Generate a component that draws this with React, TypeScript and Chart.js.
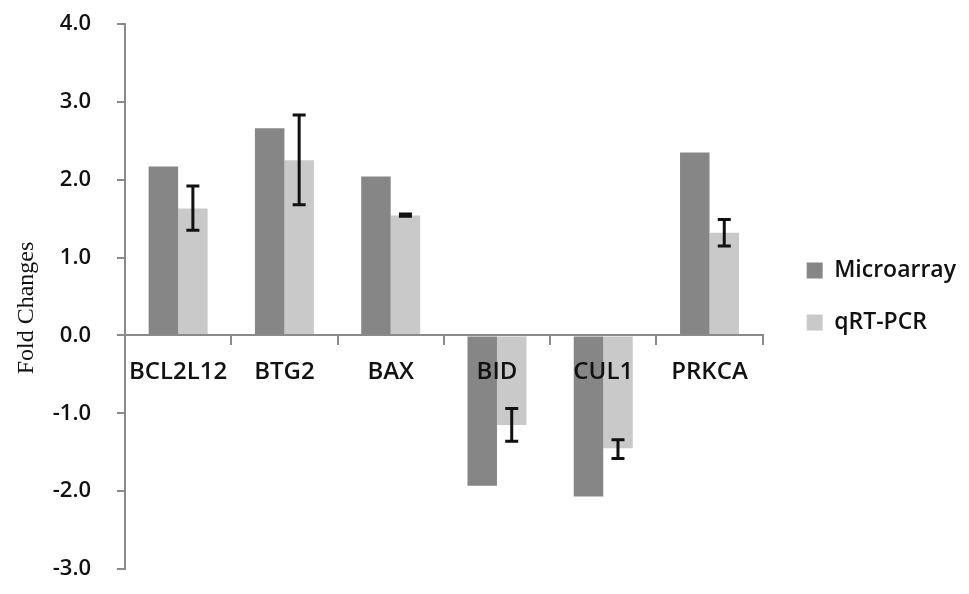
import React, { useEffect, useRef } from "react";
import { Chart, registerables } from "chart.js";

Chart.register(...registerables);

const categories = ["BCL2L12", "BTG2", "BAX", "BID", "CUL1", "PRKCA"];
const microarray = [2.17, 2.66, 2.04, -1.93, -2.07, 2.35];
const qrtpcr = [1.63, 2.25, 1.54, -1.15, -1.45, 1.32];
const qrtErrLow = [1.35, 1.68, 1.53, -1.36, -1.58, 1.15];
const qrtErrHigh = [1.92, 2.83, 1.56, -0.94, -1.34, 1.49];
const yTicks = [-3, -2, -1, 0, 1, 2, 3, 4];

const FONT = "'Open Sans', 'Noto Sans', sans-serif";

const errorBarPlugin = {
  id: "errorBars",
  afterDatasetsDraw(chart: any) {
    const meta = chart.getDatasetMeta(1);
    const y = chart.scales.y;
    const ctx = chart.ctx;
    ctx.save();
    ctx.strokeStyle = "#111";
    ctx.lineWidth = 3;
    meta.data.forEach((bar: any, i: number) => {
      const x = bar.x;
      const yHi = y.getPixelForValue(qrtErrHigh[i]);
      const yLo = y.getPixelForValue(qrtErrLow[i]);
      const cap = 6.5;
      ctx.beginPath();
      ctx.moveTo(x, yHi);
      ctx.lineTo(x, yLo);
      ctx.moveTo(x - cap, yHi);
      ctx.lineTo(x + cap, yHi);
      ctx.moveTo(x - cap, yLo);
      ctx.lineTo(x + cap, yLo);
      ctx.stroke();
    });
    ctx.restore();
  },
};

const yTitlePlugin = {
  id: "yTitle",
  afterDraw(chart: any) {
    const ctx = chart.ctx;
    ctx.save();
    ctx.translate(33, 308);
    ctx.rotate(-Math.PI / 2);
    ctx.font = "24px 'Liberation Serif', 'Times New Roman', serif";
    ctx.fillStyle = "#111";
    ctx.textAlign = "center";
    ctx.textBaseline = "alphabetic";
    ctx.fillText("Fold Changes", 0, 0);
    ctx.restore();
  },
};

export default function App() {
  const ref = useRef<HTMLCanvasElement | null>(null);
  useEffect(() => {
    if (!ref.current) return;
    const chart = new Chart(ref.current, {
      type: "bar",
      data: {
        labels: categories,
        datasets: [
          {
            label: "Microarray",
            data: microarray,
            backgroundColor: "#868686",
            borderWidth: 0,
            categoryPercentage: 0.555,
            barPercentage: 1,
          },
          {
            label: "qRT-PCR",
            data: qrtpcr,
            backgroundColor: "#c9c9c9",
            borderWidth: 0,
            categoryPercentage: 0.555,
            barPercentage: 1,
          },
        ],
      },
      options: {
        responsive: false,
        animation: false,
        layout: { padding: { top: 24, bottom: 25, left: 0, right: 3 } },
        plugins: {
          legend: {
            position: "right",
            align: "center",
            maxWidth: 260,
            labels: {
              boxWidth: 16,
              boxHeight: 16,
              padding: 29,
              color: "#111",
              font: { family: FONT, size: 23, weight: "600" },
            },
          } as any,
          tooltip: { enabled: false },
          title: { display: false },
        },
        scales: {
          x: {
            position: { y: 0 } as any,
            grid: {
              display: true,
              drawOnChartArea: false,
              drawTicks: true,
              tickLength: 9,
              offset: true,
              color: "#8a8a8a",
              lineWidth: 2,
              z: 1,
            },
            border: { display: true, color: "#8a8a8a", width: 2, z: 1 },
            ticks: {
              color: "#111",
              padding: 13,
              maxRotation: 0,
              z: 2,
              font: { family: FONT, size: 24, weight: "600" },
            },
          } as any,
          y: {
            min: -3,
            max: 4,
            afterFit: (s: any) => {
              s.width = 125;
              s.paddingTop = 0;
              s.paddingBottom = 0;
            },
            afterBuildTicks: (s: any) => {
              s.ticks = yTicks.map((v) => ({ value: v }));
            },
            grid: {
              display: true,
              drawOnChartArea: false,
              drawTicks: true,
              tickLength: 8,
              color: "#8a8a8a",
              lineWidth: 2,
            },
            border: { display: true, color: "#8a8a8a", width: 2 },
            ticks: {
              color: "#111",
              padding: 26,
              font: { family: FONT, size: 22, weight: "600" },
              callback: (v: any) => Number(v).toFixed(1),
            },
          },
          yr: {
            type: "linear",
            axis: "y",
            position: "right",
            display: true,
            grid: { display: false },
            border: { display: false },
            ticks: { display: false },
            afterFit: (s: any) => {
              s.width = 15;
              s.paddingTop = 0;
              s.paddingBottom = 0;
            },
          } as any,
        },
      },
      plugins: [errorBarPlugin, yTitlePlugin],
    });
    return () => chart.destroy();
  }, []);
  return (
    <div style={{ position: "fixed", left: 0, top: 0, width: 969, height: 594, background: "#fff" }}>
      <canvas ref={ref} width={969} height={594} style={{ display: "block" }} />
    </div>
  );
}
